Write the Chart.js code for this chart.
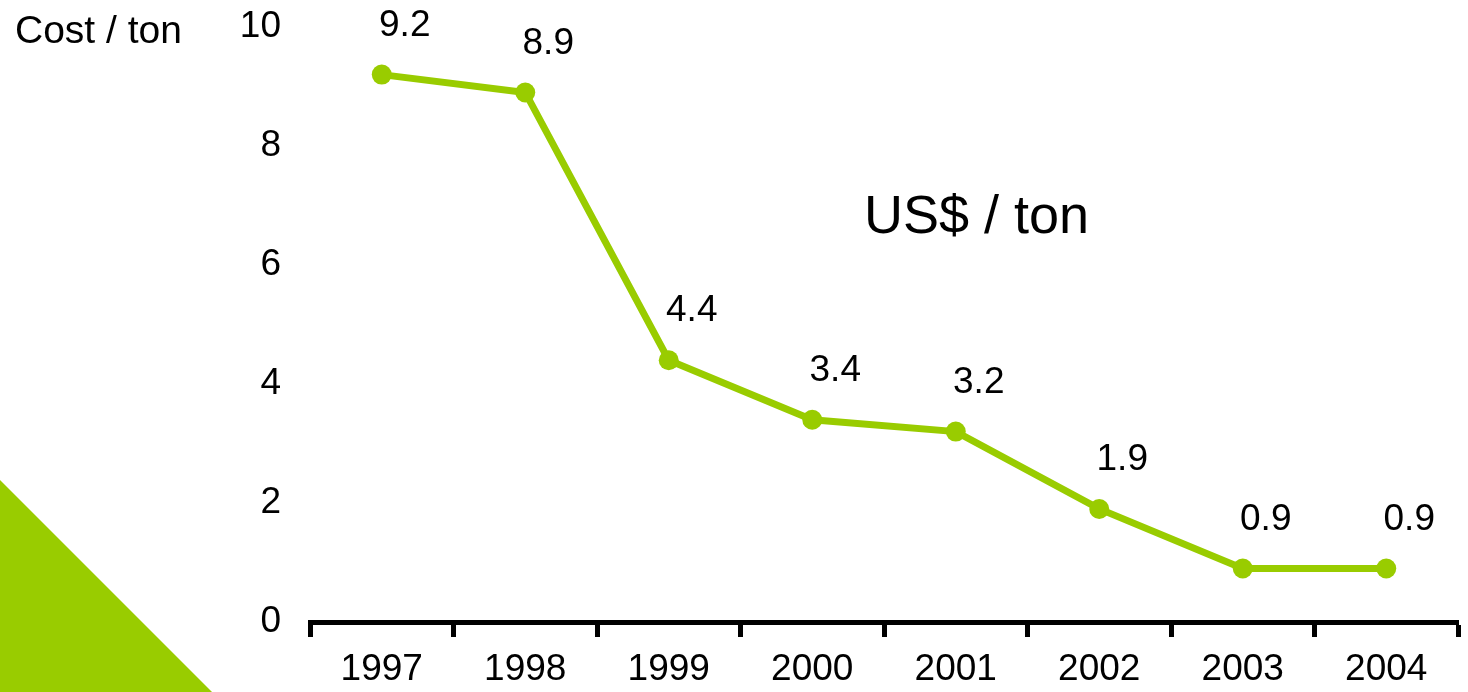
<!DOCTYPE html>
<html>
<head>
<meta charset="utf-8">
<script src="https://cdn.jsdelivr.net/npm/chart.js@4.4.1/dist/chart.umd.min.js"></script>
<style>
  html, body { margin: 0; padding: 0; background: #fff; }
  body { width: 1468px; height: 692px; position: relative; overflow: hidden; font-family: "Liberation Sans", Arial, sans-serif; }
  #wrap { position: absolute; left: 0; top: 0; width: 1468px; height: 692px; }
  .corner { position: absolute; left: 0; top: 480px; width: 212px; height: 212px; background: #99cc00; clip-path: polygon(0 0, 0 100%, 100% 100%); }
  .label { position: absolute; color: #000; white-space: nowrap; line-height: 1; }
  #costLabel { left: 15px; top: 10px; font-size: 39px; }
  #unitLabel { left: 864px; top: 187px; font-size: 54px; }
</style>
</head>
<body>
<div class="corner"></div>
<div id="wrap"><canvas id="costChart"></canvas></div>
<div class="label" id="costLabel">Cost / ton</div>
<div class="label" id="unitLabel">US$ / ton</div>
<script>
const years = ["1997", "1998", "1999", "2000", "2001", "2002", "2003", "2004"];
const costPerTon = [9.2, 8.9, 4.4, 3.4, 3.2, 1.9, 0.9, 0.9];
const yTicks = [0, 2, 4, 6, 8, 10];

const green = "#99cc00";
const fontFamily = '"Liberation Sans", Arial, sans-serif';

// value labels drawn a bit above and right of each point
const valueLabels = {
  id: "valueLabels",
  afterDatasetsDraw(chart) {
    const ctx = chart.ctx;
    const meta = chart.getDatasetMeta(0);
    ctx.save();
    ctx.font = "37px " + fontFamily;
    ctx.fillStyle = "#000";
    ctx.textAlign = "center";
    ctx.textBaseline = "middle";
    meta.data.forEach((pt, i) => {
      ctx.fillText(costPerTon[i].toFixed(1), pt.x + 23, pt.y - 49);
    });
    ctx.restore();
  },
};

document.addEventListener("DOMContentLoaded", () => {
  const ctx = document.getElementById("costChart").getContext("2d");
  new Chart(ctx, {
    type: "line",
    data: {
      labels: years,
      datasets: [
        {
          label: "US$ / ton",
          data: costPerTon,
          borderColor: green,
          backgroundColor: green,
          borderWidth: 7,
          pointRadius: 10,
          pointBackgroundColor: green,
          pointBorderWidth: 0,
          tension: 0,
        },
      ],
    },
    options: {
      responsive: true,
      maintainAspectRatio: false,
      animation: false,
      layout: { padding: { left: 0, right: 6, top: 27, bottom: 0 } },
      plugins: {
        legend: { display: false },
        tooltip: { enabled: false },
      },
      scales: {
        x: {
          offset: true,
          grid: {
            offset: true,
            drawOnChartArea: false,
            drawTicks: true,
            tickLength: 15,
            tickWidth: 5,
            tickColor: "#000",
          },
          border: { display: true, color: "#000", width: 5 },
          ticks: {
            color: "#000",
            padding: 11,
            maxRotation: 0,
            font: { family: fontFamily, size: 37 },
          },
          afterFit(scale) {
            scale.height = 70;
            scale.paddingLeft = 0;
            scale.paddingRight = 0;
          },
        },
        y: {
          min: 0,
          max: 10,
          afterBuildTicks(scale) {
            scale.ticks = yTicks.map((v) => ({ value: v }));
          },
          grid: { display: false, drawTicks: false },
          border: { display: false },
          ticks: {
            color: "#000",
            padding: 29,
            font: { family: fontFamily, size: 37 },
          },
          afterFit(scale) {
            scale.width = 310;
            scale.paddingTop = 0;
            scale.paddingBottom = 0;
          },
        },
      },
    },
    plugins: [valueLabels],
  });
});
</script>
</body>
</html>
